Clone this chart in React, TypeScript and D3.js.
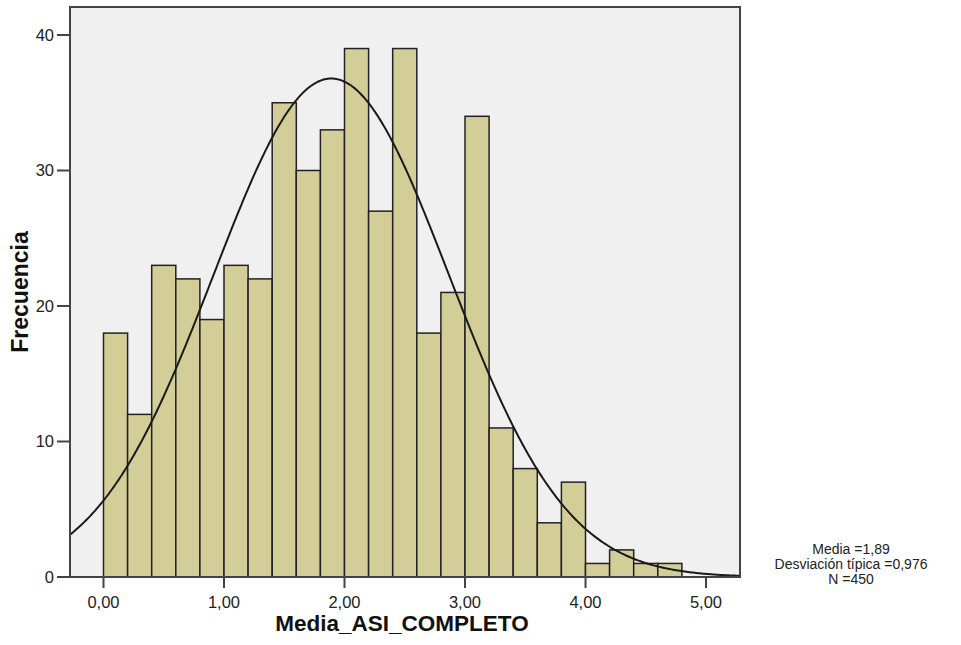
import React from "react";
import * as d3 from "d3";

const binStarts = [0, 0.2, 0.4, 0.6, 0.8, 1.0, 1.2, 1.4, 1.6, 1.8, 2.0, 2.2, 2.4, 2.6, 2.8, 3.0, 3.2, 3.4, 3.6, 3.8, 4.0, 4.2, 4.4, 4.6];
const counts = [18, 12, 23, 22, 19, 23, 22, 35, 30, 33, 39, 27, 39, 18, 21, 34, 11, 8, 4, 7, 1, 2, 1, 1];
const binWidth = 0.2;
const xTicks = [0, 1, 2, 3, 4, 5];
const yTicks = [0, 10, 20, 30, 40];
const mean = 1.89;
const sd = 0.976;
const n = 450;
const legendLines = ["Media =1,89", "Desviación típica =0,976", "N =450"];

export default function App() {
  const W = 961, H = 645;
  const left = 70, right = 740, top = 7, bottom = 577;
  const x = d3.scaleLinear().domain([0, 5]).range([103.5, 706]);
  const y = d3.scaleLinear().domain([0, 40]).range([577, 35]);
  const xMin = x.invert(left), xMax = x.invert(right);
  const pts = d3.range(0, 401).map((i) => xMin + (xMax - xMin) * i / 400);
  const pdf = (v: number) => (n * binWidth) / (sd * Math.sqrt(2 * Math.PI)) * Math.exp(-0.5 * ((v - mean) / sd) ** 2);
  const line = d3.line<number>().x((v) => x(v)).y((v) => y(pdf(v))).curve(d3.curveLinear);
  const fmt = (v: number) => v.toFixed(2).replace(".", ",");
  const font = "'Liberation Sans', Arial, sans-serif";
  return (
    <svg width={W} height={H} style={{ position: "absolute", left: 0, top: 0, background: "#fff" }} fontFamily={font}>
      <defs>
        <clipPath id="plot">
          <rect x={left} y={top} width={right - left} height={bottom - top} />
        </clipPath>
      </defs>
      <rect x={left} y={top} width={right - left} height={bottom - top} fill="#f0f0f0" />
      {counts.map((c, i) => (
        <rect
          key={i}
          x={x(binStarts[i])}
          y={y(c)}
          width={x(binStarts[i] + binWidth) - x(binStarts[i])}
          height={y(0) - y(c)}
          fill="#d3ce97"
          stroke="#222"
          strokeWidth={1.5}
        />
      ))}
      <path d={line(pts) || ""} fill="none" stroke="#1a1a1a" strokeWidth={2} clipPath="url(#plot)" />
      <rect x={left} y={top} width={right - left} height={bottom - top} fill="none" stroke="#444" strokeWidth={2} />
      {yTicks.map((t) => (
        <g key={t}>
          <line x1={57} x2={left} y1={y(t)} y2={y(t)} stroke="#444" strokeWidth={2} />
          <text x={54} y={y(t)} dy="0.35em" textAnchor="end" fontSize={16.5} fill="#222">{t}</text>
        </g>
      ))}
      {xTicks.map((t) => (
        <g key={t}>
          <line x1={x(t)} x2={x(t)} y1={bottom} y2={bottom + 11} stroke="#444" strokeWidth={2} />
          <text x={x(t)} y={608} textAnchor="middle" fontSize={16.5} fill="#222">{fmt(t)}</text>
        </g>
      ))}
      <text x={402} y={631} textAnchor="middle" fontSize={22.5} fontWeight="bold" fill="#111">Media_ASI_COMPLETO</text>
      <text transform={`translate(28,292) rotate(-90)`} textAnchor="middle" fontSize={23} fontWeight="bold" fill="#111">Frecuencia</text>
      {legendLines.map((s, i) => (
        <text key={i} x={851} y={554 + i * 15} textAnchor="middle" fontSize={14} fill="#222">{s}</text>
      ))}
    </svg>
  );
}
